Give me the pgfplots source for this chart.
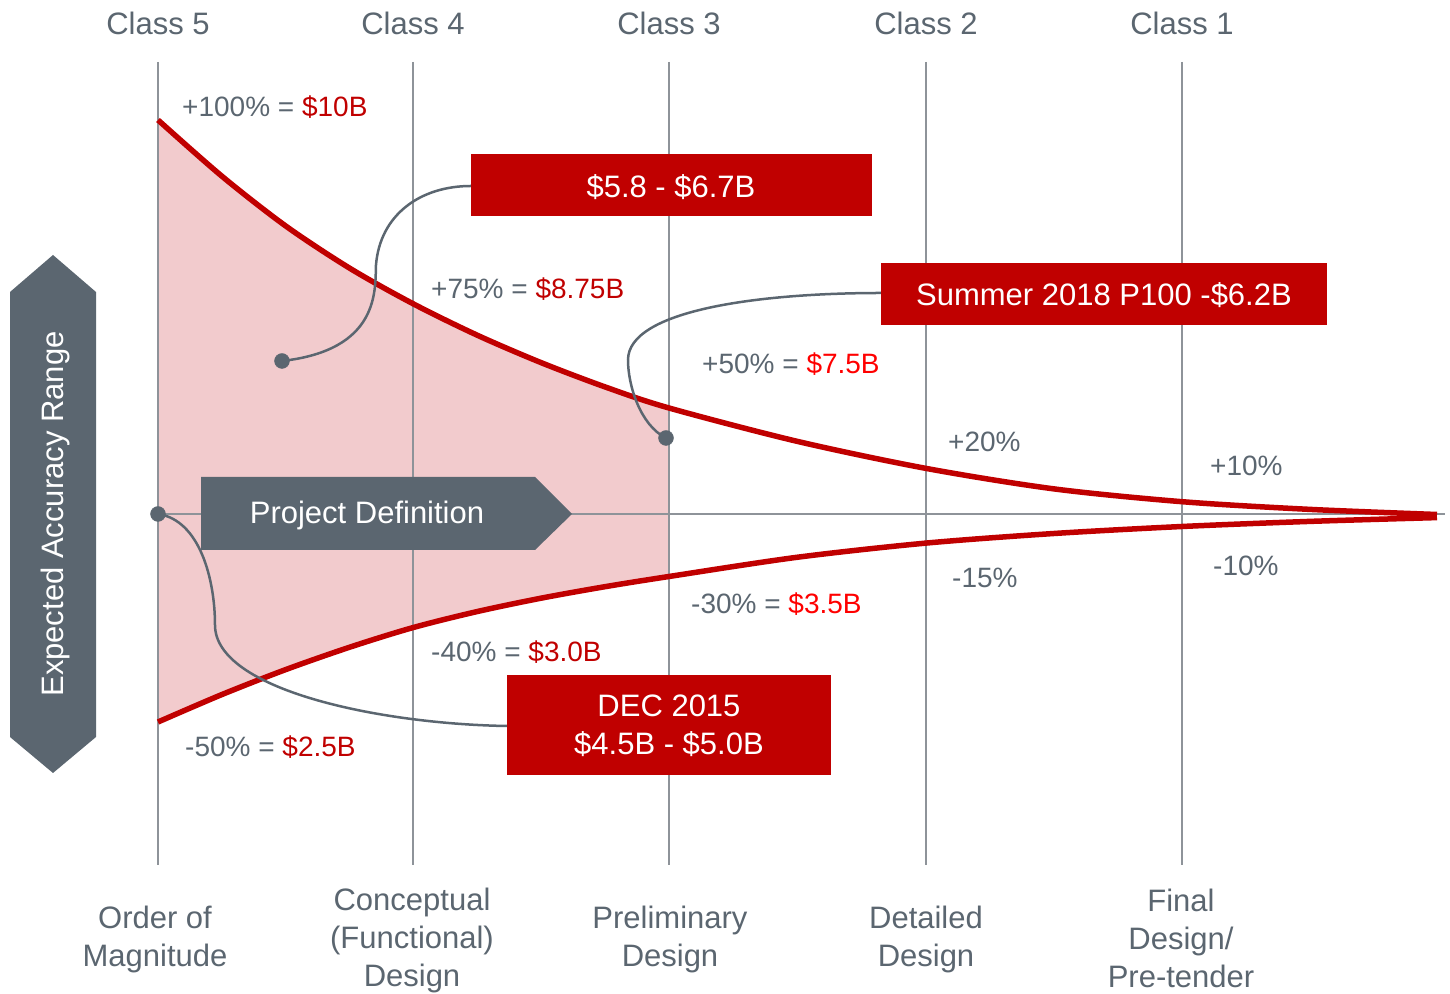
\documentclass[border=0pt]{standalone}
\usepackage{fontspec}
\setmainfont{Liberation Sans}
\usepackage{pgfplots}
\pgfplotsset{compat=1.18}
\usepgfplotslibrary{fillbetween}
\definecolor{cred}{HTML}{C00000}
\definecolor{bred}{HTML}{FF0000}
\definecolor{slate}{HTML}{5B6670}
\definecolor{gridc}{HTML}{8E9399}
\definecolor{pinkf}{HTML}{F2CBCD}
\begin{document}
\begin{tikzpicture}[
  vlab/.style={anchor=west, inner sep=0pt, text=slate, font=\fontsize{28bp}{34bp}\selectfont},
  blab/.style={inner sep=0pt, text=slate, align=center, font=\fontsize{31bp}{38bp}\selectfont},
  wlab/.style={inner sep=0pt, text=white, align=center, font=\fontsize{31bp}{38bp}\selectfont}]
\begin{axis}[hide axis, scale only axis, width=1450bp, height=994bp,
  xmin=0, xmax=1450, ymin=0, ymax=994, y dir=reverse, clip=false]
% shaded region boundaries (Class 5 to Class 3)
\addplot[draw=none, forget plot, name path=up, smooth] coordinates {
 (158,120)(222,176.3)(286,226.2)(350,268.4)(413,303.7)(477,335.1)(541,362.6)(605,386.9)(669,408)};
\addplot[draw=none, forget plot, name path=lo, smooth] coordinates {
 (158,722)(222,694.5)(286,669.5)(350,647.1)(413,627.6)(477,611.6)(541,598.2)(605,586.7)(669,576.5)};
\addplot[pinkf, forget plot] fill between[of=up and lo];
% grid lines
\foreach \xx in {158,413,669,926,1182}{
  \edef\tmp{\noexpand\draw[gridc, line width=2bp] (axis cs:\xx,62) -- (axis cs:\xx,865);}\tmp
}
\draw[gridc, line width=2bp] (axis cs:158,514) -- (axis cs:1445,514);
% red curves
\addplot[cred, line width=5.5bp, smooth] coordinates {
 (158,120)(222,176.3)(286,226.2)(350,268.4)(413,303.7)(477,335.1)(541,362.6)(605,386.9)(669,408)
 (797,441.3)(926,468.4)(1054,488.9)(1182,501.7)(1310,509.4)(1437,514.5)};
\addplot[cred, line width=5.5bp, smooth] coordinates {
 (158,722)(222,694.5)(286,669.5)(350,647.1)(413,627.6)(477,611.6)(541,598.2)(605,586.7)(669,576.5)
 (797,557.3)(926,543.1)(1054,533.5)(1182,526.5)(1310,521.4)(1437,517.6)};
% project definition arrow
\fill[slate] (axis cs:201,477) -- (axis cs:535,477) -- (axis cs:572,514) -- (axis cs:535,550) -- (axis cs:201,550) -- cycle;
\node[wlab] at (axis cs:367,515) {Project Definition};
% expected accuracy range arrow
\fill[slate] (axis cs:53,255) -- (axis cs:96,292) -- (axis cs:96,737) -- (axis cs:53,773) -- (axis cs:10,737) -- (axis cs:10,292) -- cycle;
\node[wlab, rotate=90] at (axis cs:55,514) {Expected Accuracy Range};
% connectors
\draw[slate, line width=2.5bp] (axis cs:282,361) .. controls (axis cs:380,350) and (axis cs:375,290) .. (axis cs:376,265) .. controls (axis cs:380,215) and (axis cs:420,186) .. (axis cs:471,186);
\draw[slate, line width=2.5bp] (axis cs:666,438) .. controls (axis cs:640,425) and (axis cs:628,385) .. (axis cs:628,360) .. controls (axis cs:628,310) and (axis cs:760,293) .. (axis cs:881,293);
\draw[slate, line width=2.5bp] (axis cs:158,514) .. controls (axis cs:200,520) and (axis cs:215,580) .. (axis cs:215,625) .. controls (axis cs:215,690) and (axis cs:380,724) .. (axis cs:507,726);
\addplot[only marks, mark=*, mark size=7.5bp, slate, mark options={draw=slate, fill=slate}] coordinates {(282,361)(666,438)(158,514)};
% red boxes
\fill[cred] (axis cs:471,154) rectangle (axis cs:872,216);
\node[wlab] at (axis cs:671,187) {\$5.8 - \$6.7B};
\fill[cred] (axis cs:881,263) rectangle (axis cs:1327,325);
\node[wlab] at (axis cs:1104,295) {Summer 2018 P100 -\$6.2B};
\fill[cred] (axis cs:507,675) rectangle (axis cs:831,775);
\node[wlab] at (axis cs:669,726) {DEC 2015\\\$4.5B - \$5.0B};
% class labels
\node[blab] at (axis cs:158,23) {Class 5};
\node[blab] at (axis cs:413,23) {Class 4};
\node[blab] at (axis cs:669,23) {Class 3};
\node[blab] at (axis cs:926,23) {Class 2};
\node[blab] at (axis cs:1182,23) {Class 1};
% value labels
\node[vlab] at (axis cs:182,107) {+100\% = \textcolor{cred}{\$10B}};
\node[vlab] at (axis cs:431,289) {+75\% = \textcolor{cred}{\$8.75B}};
\node[vlab] at (axis cs:702,364) {+50\% = \textcolor{bred}{\$7.5B}};
\node[vlab] at (axis cs:948,442) {+20\%};
\node[vlab] at (axis cs:1210,466) {+10\%};
\node[vlab] at (axis cs:952,578) {-15\%};
\node[vlab] at (axis cs:1213,566) {-10\%};
\node[vlab] at (axis cs:691,604) {-30\% = \textcolor{bred}{\$3.5B}};
\node[vlab] at (axis cs:431,652) {-40\% = \textcolor{cred}{\$3.0B}};
\node[vlab] at (axis cs:185,747) {-50\% = \textcolor{cred}{\$2.5B}};
% bottom labels
\node[blab] at (axis cs:155,939) {Order of\\Magnitude};
\node[blab] at (axis cs:412,940) {Conceptual\\(Functional)\\Design};
\node[blab] at (axis cs:670,939) {Preliminary\\Design};
\node[blab] at (axis cs:926,939) {Detailed\\Design};
\node[blab] at (axis cs:1181,938) {Final\\Design/\\Pre-tender};
\end{axis}
\pgfresetboundingbox
\path (0,0) rectangle (1450bp,994bp);
\end{tikzpicture}
\end{document}
